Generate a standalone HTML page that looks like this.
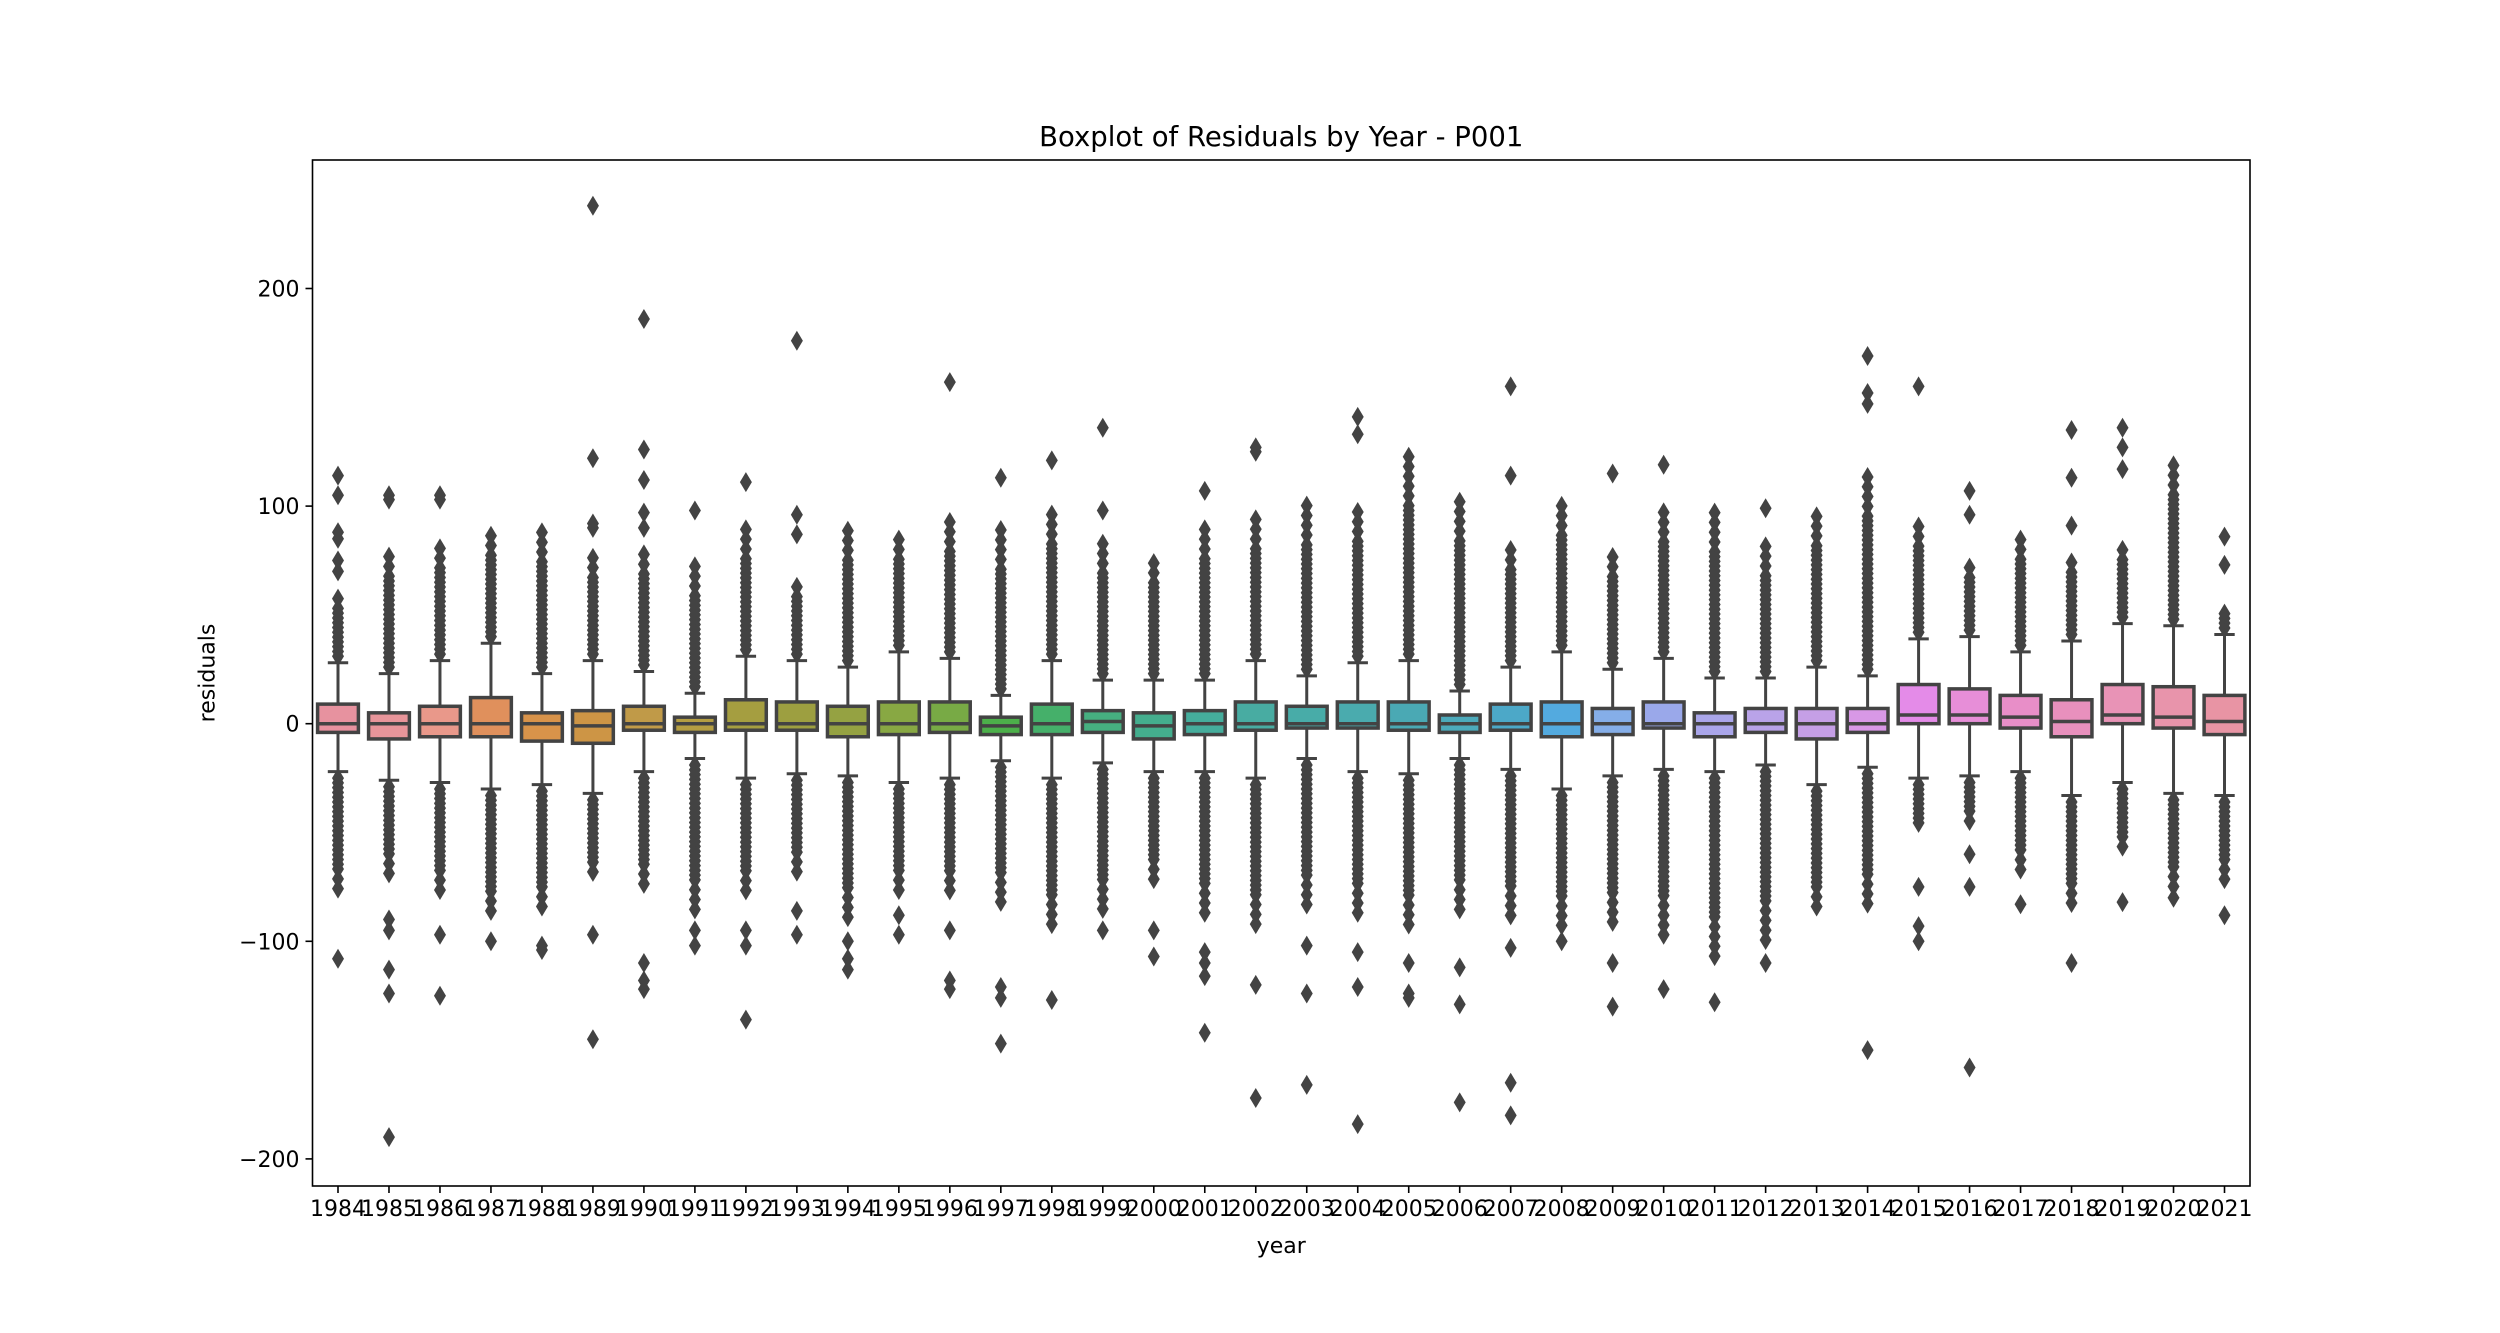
<!DOCTYPE html>
<html><head><meta charset="utf-8"><style>
html,body{margin:0;padding:0;background:#fff;}
svg{display:block;font-family:"DejaVu Sans","Liberation Sans",sans-serif;}
</style></head><body>
<svg id="s" width="2500" height="1333" xmlns="http://www.w3.org/2000/svg"></svg>
<script>
const L=312.5,R=2250,T=160,B=1186;
const y0=723.7, ppu=2.176;
const Y=v=>y0-v*ppu;
const cols=["#e7929f","#e8959a","#e9988a","#e0905c","#d8934a","#cd9545","#c09a48","#b59e42","#a59e40","#9d9f40","#95a242","#88a843","#78aa45","#4cb04a","#45b06a","#46af80","#44ae8e","#45ad9c","#48aca2","#48aca8","#4aabae","#4aa9b4","#4caabb","#4ca8c8","#53aadf","#85aee8","#9aa8ea","#aaa6ea","#b9a3e8","#c59fe6","#d898e6","#e48be8","#e78ed8","#e88ec8","#e890bd","#e893b6","#e894ab","#e894a4"];
const D=[
[9,-4,0,28,-22,60,-80,[114,105,88,85,75,70],[-108]],
[5,-7,0,23,-26,80,-70,[105,103],[-90,-95,-113,-124,-190]],
[8,-6,0,29,-27,85,-80,[105,103],[-97,-125]],
[12,-6,0,37,-30,88,-90,[],[-100]],
[5,-8,0,23,-28,90,-88,[],[-102,-104]],
[6,-9,-1,29,-32,78,-72,[92,90,122,238],[-97,-145]],
[8,-3,0,24,-22,82,-78,[90,97,112,126,186],[-110,-118,-122]],
[3,-4,0,14,-16,73,-88,[98],[-95,-102]],
[11,-3,0,31,-25,90,-80,[111],[-95,-102,-136]],
[10,-3,0,29,-23,67,-70,[87,96,176],[-86,-97]],
[8,-6,0,26,-24,90,-90,[],[-100,-108,-113]],
[10,-5,0,33,-27,88,-80,[],[-88,-97]],
[10,-4,0,30,-25,93,-80,[157],[-95,-118,-122]],
[3,-5,-1,13,-17,90,-85,[113],[-121,-126,-147]],
[9,-5,0,29,-25,100,-95,[121],[-127]],
[6,-4,1,20,-18,84,-88,[98,136],[-95]],
[5,-7,-1,20,-22,78,-75,[],[-95,-107]],
[6,-5,0,20,-22,93,-90,[107],[-105,-110,-116,-142]],
[10,-3,0,29,-25,97,-95,[125,127],[-120,-172]],
[8,-2,0,22,-16,102,-85,[],[-102,-124,-166]],
[10,-2,0,28,-22,100,-90,[133,141],[-105,-121,-184]],
[10,-3,0,29,-23,123,-95,[],[-110,-124,-126]],
[4,-4,0,15,-16,105,-88,[],[-112,-129,-174]],
[9,-3,0,26,-21,84,-90,[114,155],[-103,-165,-180]],
[10,-6,0,33,-30,104,-95,[],[-100]],
[7,-5,0,25,-24,80,-95,[115],[-110,-130]],
[10,-2,0,30,-21,100,-98,[119],[-122]],
[5,-6,0,21,-22,98,-110,[],[-128]],
[7,-4,0,21,-19,83,-100,[99],[-110]],
[7,-7,0,26,-28,98,-88,[],[]],
[7,-4,0,22,-20,117,-85,[147,152,169],[-150]],
[18,0,4,39,-25,95,-50,[155],[-75,-93,-100]],
[16,0,4,40,-24,74,-45,[96,107],[-60,-75,-158]],
[13,-2,3,33,-22,88,-70,[],[-83]],
[11,-6,1,38,-33,78,-85,[91,113,135],[-110]],
[18,0,4,46,-27,84,-60,[117,127,136],[-82]],
[17,-2,3,45,-32,123,-75,[],[-80]],
[13,-5,1,41,-33,53,-72,[73,86],[-88]]
];
const C='#434343';
let h='';
const cw=(R-L)/38, bw=cw*0.8;
function dia(x,y){return `<path d="M${x} ${y-10}L${x+6} ${y}L${x} ${y+10}L${x-6} ${y}Z" fill="${C}"/>`;}
function col(cx,a,b){ // a = whisker, b = dense end, sign direction
 const s=b>a?1:-1, span=Math.abs(b-a);
 let v=a+s*3;
 while(s*(b-v)>=0){
   h+=dia(cx,Y(v));
   const frac=Math.abs(v-a)/span;
   v+=s*(frac<0.75?2.2:4.5);
 }
}
D.forEach((d,i)=>{
 const cx=L+cw*(i+0.5);
 const [q3,q1,md,wh,wl,ud,dd,us,ds]=d;
 h+=`<line x1="${cx}" y1="${Y(q3)}" x2="${cx}" y2="${Y(wh)}" stroke="${C}" stroke-width="3"/>`;
 h+=`<line x1="${cx}" y1="${Y(q1)}" x2="${cx}" y2="${Y(wl)}" stroke="${C}" stroke-width="3"/>`;
 h+=`<line x1="${cx-bw/4}" y1="${Y(wh)}" x2="${cx+bw/4}" y2="${Y(wh)}" stroke="${C}" stroke-width="3"/>`;
 h+=`<line x1="${cx-bw/4}" y1="${Y(wl)}" x2="${cx+bw/4}" y2="${Y(wl)}" stroke="${C}" stroke-width="3"/>`;
 col(cx,wh,ud); col(cx,wl,dd);
 us.forEach(v=>h+=dia(cx,Y(v)));
 ds.forEach(v=>h+=dia(cx,Y(v)));
 h+=`<rect x="${cx-bw/2}" y="${Y(q3)}" width="${bw}" height="${Y(q1)-Y(q3)}" fill="${cols[i]}" stroke="${C}" stroke-width="3.5"/>`;
 h+=`<line x1="${cx-bw/2}" y1="${Y(md)}" x2="${cx+bw/2}" y2="${Y(md)}" stroke="${C}" stroke-width="3.5"/>`;
 h+=`<line x1="${cx}" y1="${B}" x2="${cx}" y2="${B+7}" stroke="#000" stroke-width="1.6"/>`;
 h+=`<text x="${cx}" y="${B+30}" font-size="22" text-anchor="middle">${1984+i}</text>`;
});
[200,100,0,-100,-200].forEach(v=>{
 const y=Y(v);
 h+=`<line x1="${L-7}" y1="${y}" x2="${L}" y2="${y}" stroke="#000" stroke-width="1.6"/>`;
 h+=`<text x="${L-13}" y="${y+8}" font-size="22" text-anchor="end">${v<0?'\u2212'+(-v):v}</text>`;
});
h+=`<rect x="${L}" y="${T}" width="${R-L}" height="${B-T}" fill="none" stroke="#000" stroke-width="1.6"/>`;
h+=`<text x="${(L+R)/2}" y="${T-14}" font-size="27.5" text-anchor="middle">Boxplot of Residuals by Year - P001</text>`;
h+=`<text x="${(L+R)/2}" y="${B+67}" font-size="22" text-anchor="middle">year</text>`;
h+=`<text transform="translate(${L-98},${(T+B)/2}) rotate(-90)" font-size="22" text-anchor="middle">residuals</text>`;
document.getElementById('s').innerHTML=h;
</script>
</body></html>
